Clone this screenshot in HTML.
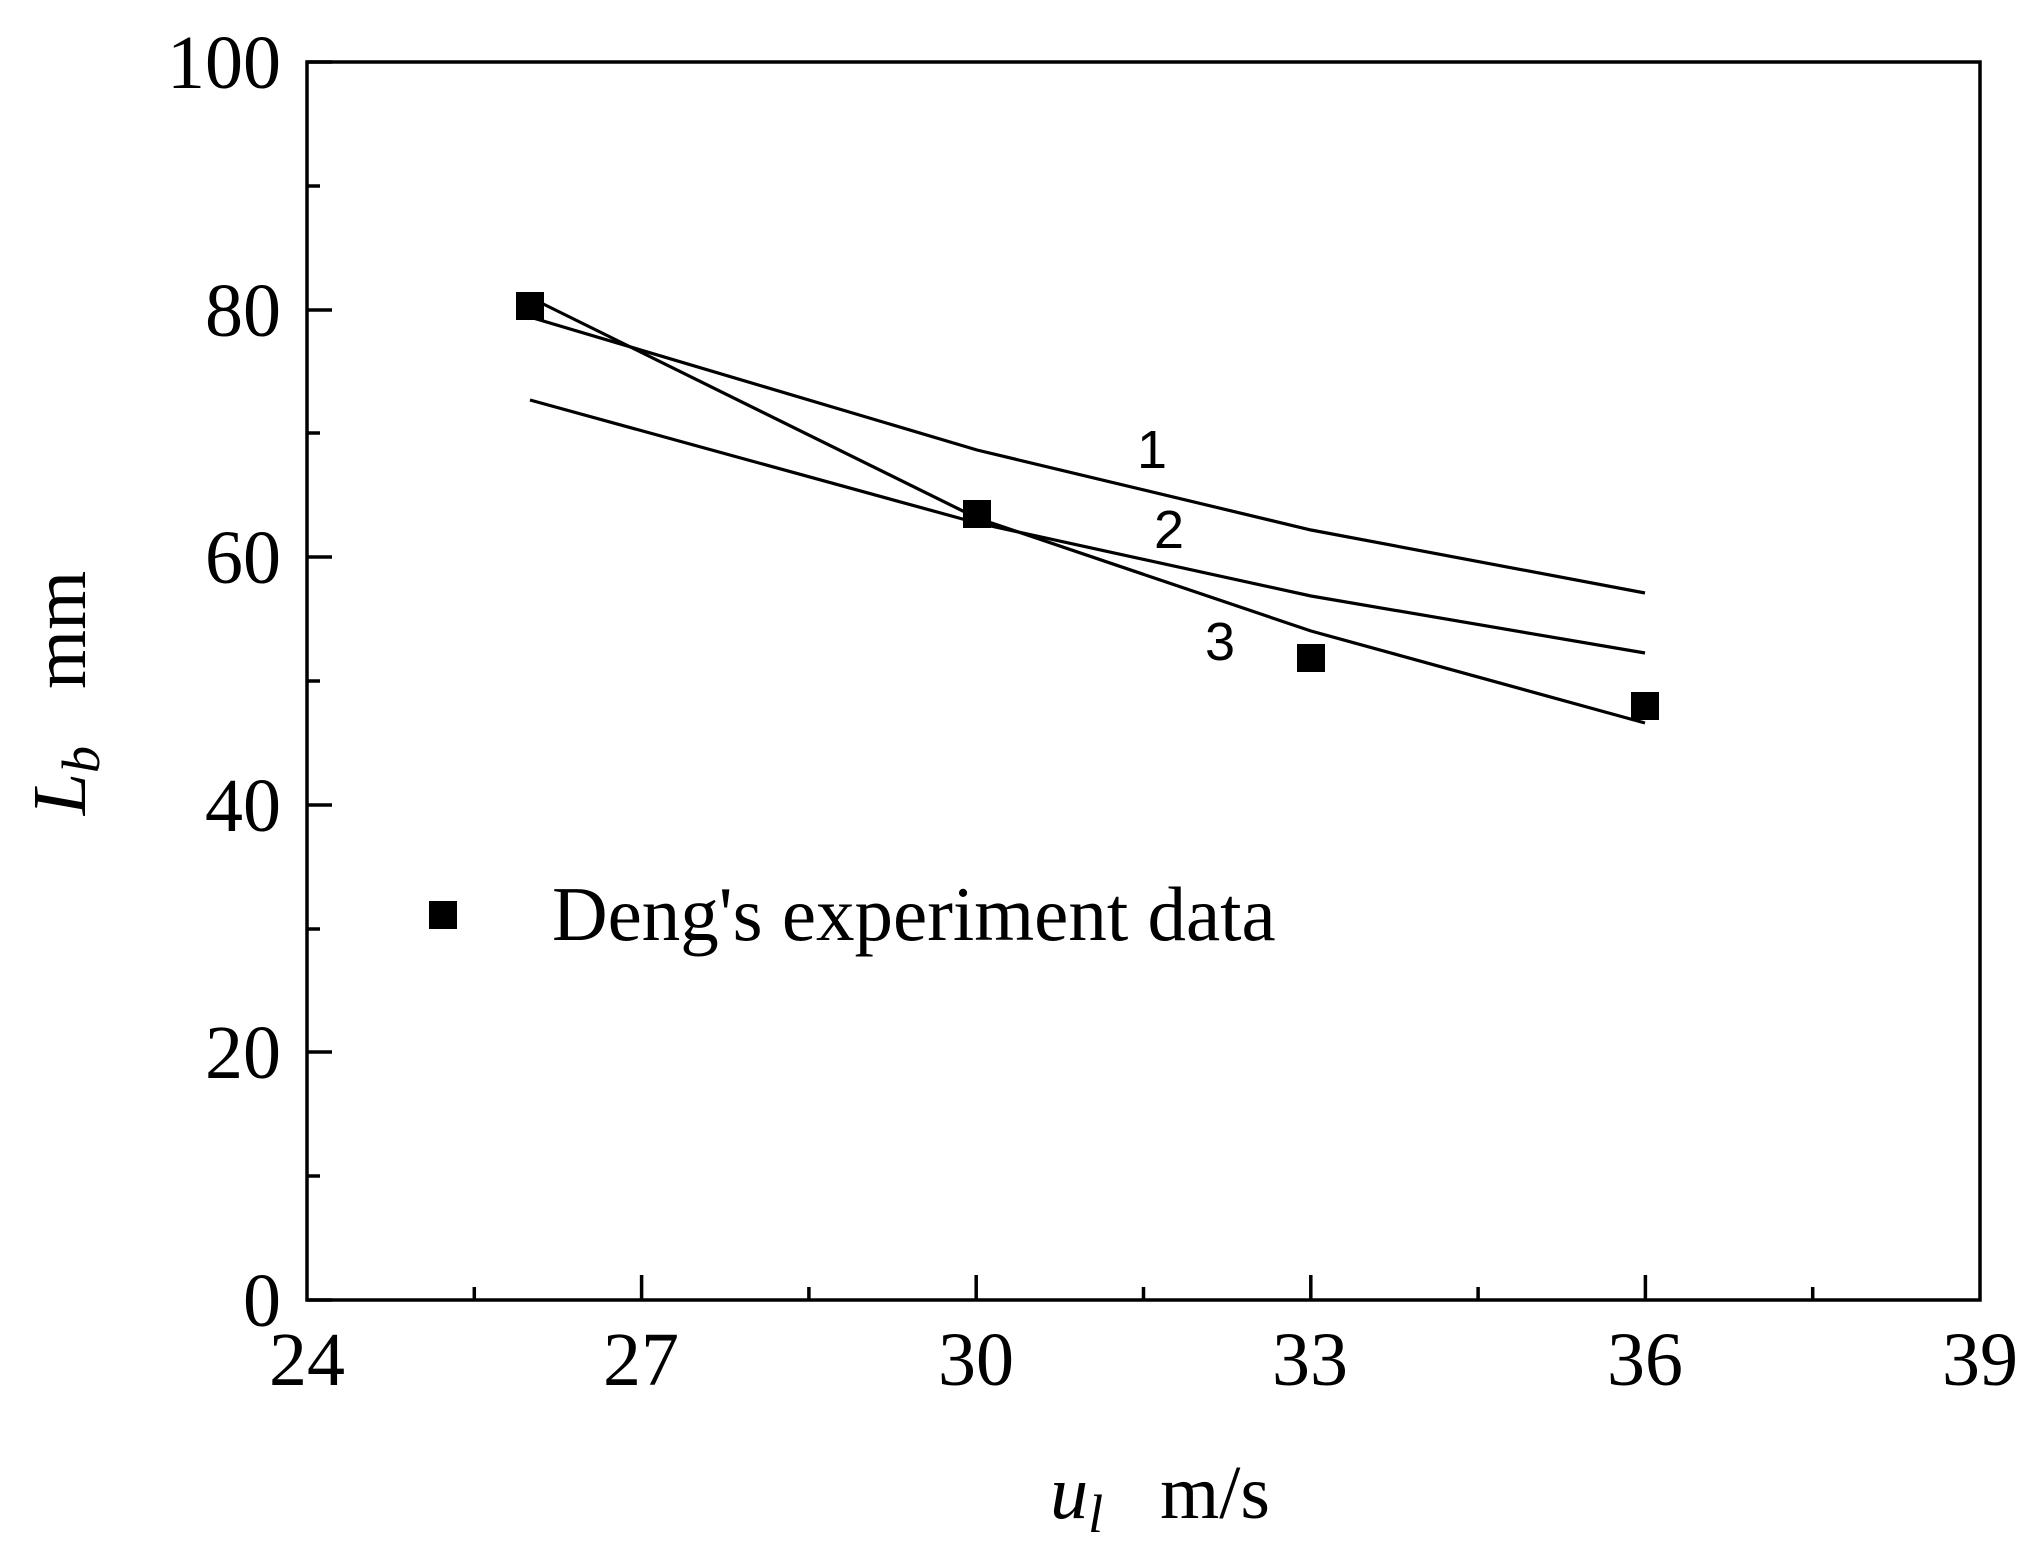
<!DOCTYPE html>
<html><head><meta charset="utf-8"><style>html,body{margin:0;padding:0;background:#fff}</style></head><body>
<svg width="2025" height="1563" viewBox="0 0 2025 1563" xmlns="http://www.w3.org/2000/svg" font-family="Liberation Serif, serif">
<rect width="2025" height="1563" fill="#fff"/>
<g stroke="#000" stroke-width="3.5" fill="none">
<rect x="307" y="62" width="1673" height="1238"/>
<path d="M641.6,1300v-25M976.2,1300v-25M1310.8,1300v-25M1645.4,1300v-25
M474.3,1300v-13M808.9,1300v-13M1143.5,1300v-13M1478.1,1300v-13M1812.7,1300v-13
M307,1300h25M307,1052h25M307,805h25M307,557h25M307,310h25M307,62h25
M307,1176h13M307,929h13M307,681h13M307,433h13M307,186h13"/>
</g>
<g stroke="#000" stroke-width="3.2" fill="none">
<polyline points="523,315 977,450 1311,530 1645,593"/>
<polyline points="530,400 977,523 1311,596 1645,653"/>
<polyline points="523,294 977,518 1311,631 1645,723"/>
</g>
<g fill="#000">
<rect x="516" y="292" width="28" height="28"/>
<rect x="963" y="500" width="28" height="28"/>
<rect x="1297" y="644" width="28" height="28"/>
<rect x="1631" y="692" width="28" height="28"/>
<rect x="429" y="901" width="28" height="28"/>
</g>
<g font-size="76" fill="#000" text-anchor="middle">
<text x="307" y="1385">24</text>
<text x="641" y="1385">27</text>
<text x="976" y="1385">30</text>
<text x="1310" y="1385">33</text>
<text x="1645" y="1385">36</text>
<text x="1980" y="1385">39</text>
</g>
<g font-size="76" fill="#000" text-anchor="end">
<text x="281" y="1326">0</text>
<text x="281" y="1078">20</text>
<text x="281" y="831">40</text>
<text x="281" y="583">60</text>
<text x="281" y="336">80</text>
<text x="281" y="88">100</text>
</g>
<g font-family="Liberation Sans, sans-serif" font-size="54" fill="#000" text-anchor="middle">
<text x="1152" y="468">1</text>
<text x="1169" y="548">2</text>
<text x="1220" y="660">3</text>
</g>
<text x="552" y="940" font-size="77" fill="#000">Deng's experiment data</text>
<text x="1160" y="1518" font-size="76" fill="#000" text-anchor="middle"><tspan font-style="italic">u<tspan font-size="54" dy="14">l</tspan></tspan><tspan dy="-14" xml:space="preserve">   m/s</tspan></text>
<text transform="translate(85,693) rotate(-90)" font-size="76" fill="#000" text-anchor="middle"><tspan font-style="italic">L<tspan font-size="54" dy="14">b</tspan></tspan><tspan dy="-14" xml:space="preserve">   mm</tspan></text>
</svg>
</body></html>
